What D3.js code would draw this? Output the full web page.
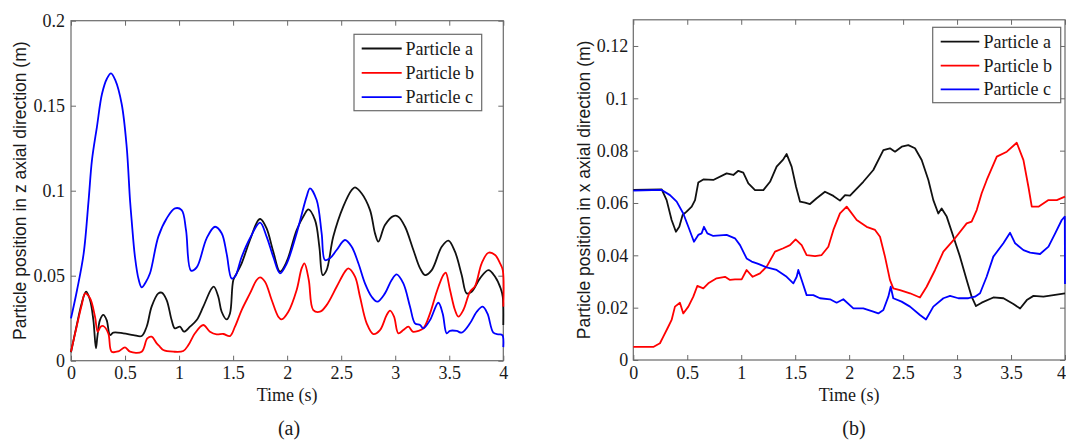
<!DOCTYPE html>
<html><head><meta charset="utf-8">
<script src="https://cdn.jsdelivr.net/npm/d3@7"></script>
<style>
html,body{margin:0;padding:0;background:#fff;}
svg{display:block;}
</style></head>
<body>
<script>
// ---------- DATA ----------
const seriesNames = ["Particle a", "Particle b", "Particle c"];
const seriesColors = ["#111111", "#ff0000", "#0000ff"];
const timeTicks = [0, 0.5, 1, 1.5, 2, 2.5, 3, 3.5, 4];
const zTicks = [0, 0.05, 0.1, 0.15, 0.2];
const xTicks = [0, 0.02, 0.04, 0.06, 0.08, 0.1, 0.12];

// (a) z axial direction: [time, position]
const zA = [[0,0.005],[0.05,0.02],[0.1,0.034],[0.14,0.0406],[0.176,0.0357],[0.207,0.0239],[0.231,0.0073],[0.244,0.0141],[0.268,0.0239],[0.299,0.0269],[0.33,0.0239],[0.361,0.0151],[0.392,0.0165],[0.484,0.0161],[0.577,0.0151],[0.654,0.0145],[0.7,0.02],[0.746,0.0318],[0.808,0.0396],[0.839,0.04],[0.885,0.0357],[0.931,0.0239],[0.962,0.019],[1.008,0.02],[1.046,0.0171],[1.101,0.02],[1.163,0.0239],[1.224,0.0318],[1.301,0.0425],[1.323,0.0435],[1.363,0.0376],[1.394,0.0288],[1.44,0.0243],[1.471,0.0278],[1.502,0.0475],[1.533,0.0514],[1.579,0.0573],[1.656,0.071],[1.733,0.0827],[1.755,0.0833],[1.81,0.0778],[1.872,0.0641],[1.934,0.0524],[1.995,0.0582],[2.088,0.0769],[2.16,0.086],[2.196,0.089],[2.258,0.0827],[2.298,0.067],[2.329,0.0504],[2.365,0.0533],[2.427,0.073],[2.519,0.0906],[2.597,0.1004],[2.628,0.102],[2.69,0.0984],[2.767,0.0886],[2.813,0.0749],[2.844,0.07],[2.905,0.0798],[2.983,0.0851],[3.029,0.0847],[3.091,0.0788],[3.168,0.0651],[3.23,0.0543],[3.276,0.0504],[3.338,0.0533],[3.43,0.067],[3.492,0.0706],[3.553,0.0641],[3.615,0.0504],[3.661,0.0396],[3.707,0.0406],[3.784,0.0484],[3.862,0.0533],[3.924,0.0494],[3.976,0.0425],[3.995,0.0376],[4.0,0.021]];
const zB = [[0,0.0053],[0.052,0.02],[0.099,0.0327],[0.13,0.0396],[0.176,0.0367],[0.222,0.0259],[0.247,0.017],[0.274,0.02],[0.299,0.0204],[0.345,0.0161],[0.376,0.0053],[0.438,0.0055],[0.5,0.0078],[0.546,0.0053],[0.654,0.0053],[0.706,0.0131],[0.746,0.0141],[0.793,0.0102],[0.823,0.0082],[0.854,0.0063],[0.947,0.0053],[1.039,0.0057],[1.086,0.0092],[1.147,0.0161],[1.224,0.021],[1.286,0.0171],[1.348,0.0155],[1.409,0.0157],[1.471,0.0145],[1.517,0.02],[1.579,0.0298],[1.656,0.0396],[1.718,0.0475],[1.749,0.049],[1.795,0.0465],[1.857,0.0357],[1.918,0.0259],[1.949,0.0243],[2.011,0.0288],[2.088,0.0416],[2.134,0.0543],[2.16,0.0573],[2.2,0.0475],[2.242,0.0298],[2.304,0.0288],[2.365,0.0327],[2.458,0.0435],[2.535,0.0524],[2.566,0.0543],[2.628,0.0494],[2.674,0.0376],[2.736,0.022],[2.797,0.0157],[2.859,0.018],[2.921,0.0269],[2.952,0.0294],[2.989,0.0259],[3.029,0.0161],[3.075,0.018],[3.122,0.02],[3.162,0.0171],[3.214,0.0176],[3.26,0.019],[3.322,0.0278],[3.384,0.0406],[3.445,0.0504],[3.467,0.0518],[3.507,0.0416],[3.553,0.0298],[3.584,0.0259],[3.63,0.0298],[3.692,0.0406],[3.739,0.0439],[3.8,0.0573],[3.862,0.0635],[3.924,0.0622],[3.97,0.0573],[3.995,0.0533],[4.0,0.0318]];
const zC = [[0,0.0249],[0.056,0.0416],[0.117,0.063],[0.163,0.0945],[0.194,0.118],[0.24,0.1376],[0.287,0.157],[0.333,0.166],[0.37,0.169],[0.41,0.165],[0.469,0.151],[0.515,0.126],[0.546,0.0945],[0.561,0.0827],[0.592,0.061],[0.625,0.048],[0.654,0.0431],[0.69,0.046],[0.731,0.0514],[0.808,0.073],[0.885,0.0837],[0.962,0.0896],[1.024,0.0886],[1.064,0.0769],[1.11,0.053],[1.163,0.0549],[1.255,0.072],[1.332,0.0788],[1.394,0.075],[1.44,0.063],[1.486,0.0484],[1.517,0.0494],[1.579,0.061],[1.656,0.072],[1.749,0.0812],[1.81,0.073],[1.872,0.061],[1.934,0.0514],[1.995,0.057],[2.088,0.075],[2.18,0.0965],[2.211,0.1014],[2.273,0.0945],[2.319,0.075],[2.35,0.0592],[2.396,0.0602],[2.458,0.0651],[2.535,0.071],[2.597,0.067],[2.659,0.0573],[2.72,0.0455],[2.782,0.0376],[2.834,0.0347],[2.905,0.0396],[2.967,0.0475],[3.013,0.0508],[3.075,0.0455],[3.137,0.0318],[3.183,0.022],[3.23,0.021],[3.26,0.019],[3.322,0.0239],[3.399,0.0341],[3.439,0.0278],[3.476,0.0161],[3.507,0.0176],[3.569,0.0175],[3.615,0.0165],[3.692,0.022],[3.754,0.0288],[3.809,0.0318],[3.853,0.0278],[3.908,0.0165],[3.954,0.0155],[3.991,0.0151],[4.0,0.008]];

// (b) x axial direction: [time, position]
const xA = [[0,0.065],[0.263,0.0652],[0.309,0.0611],[0.355,0.0535],[0.395,0.049],[0.426,0.0509],[0.457,0.0554],[0.494,0.0567],[0.541,0.0586],[0.572,0.0611],[0.602,0.0678],[0.649,0.069],[0.741,0.0688],[0.865,0.0713],[0.927,0.0707],[0.973,0.0723],[1.019,0.0716],[1.066,0.0675],[1.128,0.0649],[1.205,0.0649],[1.267,0.0681],[1.328,0.0739],[1.39,0.0767],[1.421,0.0787],[1.467,0.0739],[1.508,0.0662],[1.545,0.0605],[1.591,0.0601],[1.637,0.0596],[1.699,0.0618],[1.776,0.0643],[1.854,0.0627],[1.915,0.0609],[1.962,0.063],[2.008,0.0628],[2.131,0.0681],[2.224,0.0726],[2.317,0.0802],[2.378,0.0809],[2.425,0.0796],[2.487,0.0815],[2.548,0.0821],[2.61,0.0809],[2.672,0.0764],[2.734,0.0688],[2.78,0.0611],[2.826,0.056],[2.857,0.0579],[2.904,0.0548],[2.966,0.0471],[3.027,0.0395],[3.089,0.0306],[3.135,0.0242],[3.175,0.0206],[3.228,0.0219],[3.336,0.0239],[3.43,0.0236],[3.522,0.0214],[3.584,0.0197],[3.646,0.0229],[3.708,0.0245],[3.8,0.0242],[3.893,0.0248],[4.0,0.0255]];
const xB = [[0,0.005],[0.185,0.005],[0.247,0.0064],[0.278,0.0089],[0.324,0.0127],[0.355,0.0153],[0.386,0.0204],[0.432,0.0219],[0.463,0.0178],[0.51,0.0204],[0.556,0.0242],[0.593,0.0283],[0.649,0.0274],[0.695,0.0293],[0.772,0.0312],[0.85,0.0318],[0.896,0.0306],[0.942,0.0308],[1.004,0.0308],[1.05,0.0344],[1.106,0.0318],[1.174,0.0331],[1.236,0.0357],[1.313,0.0414],[1.39,0.0427],[1.452,0.0439],[1.504,0.0461],[1.56,0.0439],[1.606,0.0401],[1.684,0.0397],[1.745,0.0401],[1.807,0.0433],[1.854,0.0497],[1.915,0.056],[1.977,0.0586],[2.07,0.0535],[2.162,0.0509],[2.24,0.0497],[2.286,0.0471],[2.332,0.0395],[2.378,0.0306],[2.409,0.0274],[2.471,0.0267],[2.564,0.0255],[2.656,0.0239],[2.718,0.028],[2.796,0.0344],[2.873,0.0414],[2.981,0.0465],[3.089,0.0522],[3.135,0.0529],[3.182,0.0573],[3.228,0.0637],[3.275,0.0688],[3.368,0.0777],[3.461,0.0796],[3.553,0.083],[3.615,0.0764],[3.661,0.0662],[3.692,0.0586],[3.754,0.0586],[3.847,0.0611],[3.924,0.0611],[4.0,0.0624]];
const xC = [[0,0.0647],[0.263,0.065],[0.34,0.063],[0.402,0.0605],[0.463,0.056],[0.51,0.0509],[0.562,0.0452],[0.602,0.0478],[0.633,0.0484],[0.655,0.0509],[0.686,0.0484],[0.741,0.0474],[0.865,0.0478],[0.942,0.0465],[0.989,0.0439],[1.05,0.0388],[1.097,0.0376],[1.158,0.0367],[1.236,0.0354],[1.328,0.0344],[1.421,0.0318],[1.483,0.0293],[1.514,0.0318],[1.529,0.0344],[1.56,0.0306],[1.606,0.0248],[1.668,0.0248],[1.73,0.0236],[1.823,0.0232],[1.884,0.0219],[1.946,0.0232],[2.039,0.0197],[2.131,0.0197],[2.224,0.0185],[2.27,0.0178],[2.317,0.0191],[2.363,0.0242],[2.385,0.028],[2.409,0.0236],[2.486,0.0223],[2.564,0.0204],[2.656,0.0172],[2.712,0.0155],[2.78,0.0204],[2.873,0.0236],[2.935,0.0245],[3.012,0.0236],[3.105,0.0236],[3.166,0.0242],[3.213,0.0255],[3.274,0.0318],[3.336,0.0395],[3.429,0.0446],[3.491,0.0486],[3.538,0.0446],[3.615,0.042],[3.677,0.041],[3.769,0.0405],[3.847,0.0433],[3.909,0.0484],[3.97,0.0535],[3.998,0.0548],[4.0,0.029]];

// ---------- DRAW ----------
const W = 1066, H = 442;
const SERIF = "'Liberation Serif','Times New Roman',Times,serif";
const SANS = "'Liberation Sans',Arial,Helvetica,sans-serif";
const svg = d3.select("body").append("svg").attr("width", W).attr("height", H);

function panel(cfg) {
  const x = d3.scaleLinear().domain([0, 4]).range([cfg.left, cfg.right]);
  const y = d3.scaleLinear().domain(cfg.yDomain).range([cfg.bottom, cfg.top]);
  const g = svg.append("g");
  const fmt = d => String(d);
  const axisColor = "#6a6a6a";

  const styleAxis = sel => {
    sel.select(".domain").remove();
    sel.selectAll(".tick line").attr("stroke", axisColor).attr("stroke-width", 1);
    sel.selectAll(".tick text").attr("fill", "#1a1a1a")
      .style("font-family", SERIF).style("font-size", "18px");
  };

  const bottomAxis = g.append("g").attr("transform", `translate(0,${cfg.bottom})`)
    .call(d3.axisBottom(x).tickValues(timeTicks).tickFormat(fmt).tickSize(-5).tickPadding(6))
    .call(styleAxis);
  // keep the last tick label inside the page when the panel reaches the edge
  bottomAxis.selectAll(".tick text").each(function(d) {
    const px = x(d);
    if (px + 5 > W) d3.select(this).attr("dx", (W - 5 - px) + "px");
  });
  g.append("g").attr("transform", `translate(0,${cfg.top})`)
    .call(d3.axisTop(x).tickValues(timeTicks).tickFormat("").tickSize(-5))
    .call(styleAxis);
  g.append("g").attr("transform", `translate(${cfg.left},0)`)
    .call(d3.axisLeft(y).tickValues(cfg.yTicks).tickFormat(fmt).tickSize(-5).tickPadding(cfg.yPad))
    .call(styleAxis);
  g.append("g").attr("transform", `translate(${cfg.right},0)`)
    .call(d3.axisRight(y).tickValues(cfg.yTicks).tickFormat("").tickSize(-5))
    .call(styleAxis);

  g.append("rect")
    .attr("x", cfg.left).attr("y", cfg.top)
    .attr("width", cfg.right - cfg.left).attr("height", cfg.bottom - cfg.top)
    .attr("fill", "none").attr("stroke", axisColor).attr("stroke-width", 1.2);

  const line = d3.line().x(d => x(d[0])).y(d => y(d[1])).curve(cfg.curve);
  cfg.series.forEach((s, i) => {
    g.append("path").datum(s)
      .attr("d", line)
      .attr("fill", "none")
      .attr("stroke", seriesColors[i])
      .attr("stroke-width", 1.8)
      .attr("stroke-linejoin", "round");
  });

  // legend
  const L = cfg.legend;
  g.append("rect").attr("x", L.x0).attr("y", L.y0)
    .attr("width", L.x1 - L.x0).attr("height", L.y1 - L.y0)
    .attr("fill", "#fff").attr("stroke", axisColor).attr("stroke-width", 1.2);
  seriesNames.forEach((n, i) => {
    const yy = L.rows[i];
    g.append("line").attr("x1", L.lx0).attr("x2", L.lx1).attr("y1", yy).attr("y2", yy)
      .attr("stroke", seriesColors[i]).attr("stroke-width", 1.8);
    g.append("text").attr("x", L.tx).attr("y", yy).attr("dy", "0.34em")
      .style("font-family", SERIF).style("font-size", "18px").attr("fill", "#1a1a1a")
      .text(n);
  });

  // axis labels
  g.append("text")
    .attr("transform", `translate(${cfg.ylabX},${(cfg.top + cfg.bottom) / 2}) rotate(-90)`)
    .attr("text-anchor", "middle").attr("dy", "0.35em")
    .style("font-family", SANS).style("font-size", "17.5px").attr("fill", "#1a1a1a")
    .text(cfg.ylabel);
  g.append("text")
    .attr("x", (cfg.left + cfg.right) / 2).attr("y", 395).attr("dy", "0.35em")
    .attr("text-anchor", "middle")
    .style("font-family", SERIF).style("font-size", "18px").attr("fill", "#1a1a1a")
    .text("Time (s)");
  g.append("text")
    .attr("x", cfg.capX).attr("y", 428).attr("dy", "0.35em")
    .attr("text-anchor", "middle")
    .style("font-family", SERIF).style("font-size", "20px").attr("fill", "#1a1a1a")
    .text(cfg.caption);
}

panel({
  left: 71, right: 503.3, top: 20.7, bottom: 360.7,
  yDomain: [0, 0.2], yTicks: zTicks, yPad: 6,
  curve: d3.curveCatmullRom.alpha(0.5),
  series: [zA, zB, zC],
  legend: {x0: 354, x1: 481.7, y0: 34.3, y1: 110.7, rows: [48.5, 72.8, 97.2], lx0: 361.7, lx1: 401.7, tx: 405.5},
  ylabel: "Particle position in z axial direction (m)", ylabX: 20,
  caption: "(a)", capX: 289
});

panel({
  left: 633.3, right: 1065, top: 19.8, bottom: 360,
  yDomain: [0, 0.13], yTicks: xTicks, yPad: 5,
  curve: d3.curveLinear,
  series: [xA, xB, xC],
  legend: {x0: 932.7, x1: 1060.7, y0: 27.3, y1: 102.7, rows: [41.7, 65.7, 89.3], lx0: 940.7, lx1: 979.3, tx: 983.5},
  ylabel: "Particle position in x axial direction (m)", ylabX: 583.5,
  caption: "(b)", capX: 854
});
</script>
</body></html>
